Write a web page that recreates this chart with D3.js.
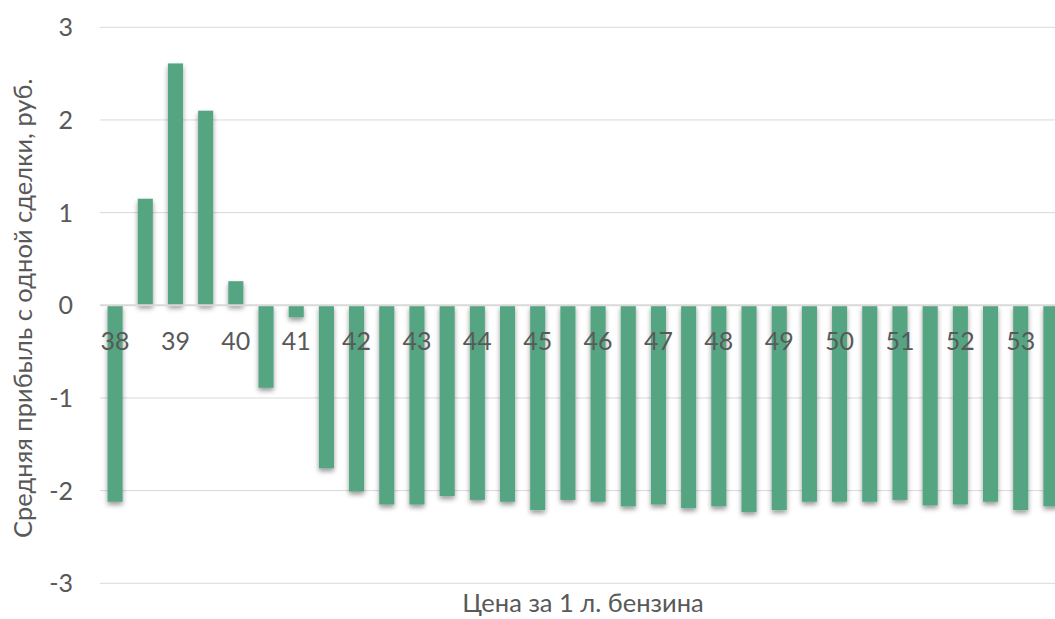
<!DOCTYPE html>
<html><head><meta charset="utf-8">
<script src="https://cdn.jsdelivr.net/npm/d3@7"></script>
<style>body{margin:0;background:#fff;}svg{display:block;}</style>
</head><body>
<svg id="c" width="1055" height="619"></svg>
<script>
const categories = [38,38.5,39,39.5,40,40.5,41,41.5,42,42.5,43,43.5,44,44.5,45,45.5,46,46.5,47,47.5,48,48.5,49,49.5,50,50.5,51,51.5,52,52.5,53,53.5];
const values = [-2.12,1.15,2.61,2.10,0.26,-0.89,-0.13,-1.76,-2.01,-2.15,-2.15,-2.06,-2.10,-2.12,-2.21,-2.10,-2.12,-2.17,-2.15,-2.19,-2.17,-2.23,-2.21,-2.12,-2.12,-2.12,-2.10,-2.16,-2.15,-2.12,-2.21,-2.17];
const yTicks = [-3,-2,-1,0,1,2,3];
const xTitle = "Цена за 1 л. бензина";
const yTitle = "Средняя прибыль с одной сделки, руб.";

const svg = d3.select("#c");
const font = "Lato, 'Open Sans', sans-serif";
const fs = 25, fsT = 25.5;
const pL = 100, pR = 1066, pT = 27.3, pB = 583.3;
const x = d3.scaleBand().domain(categories).range([pL, pR]).paddingInner(0.5).paddingOuter(0.25);
const y = d3.scaleLinear().domain([-3, 3]).range([pB, pT]);

const defs = svg.append("defs");
const f = defs.append("filter").attr("id","sh").attr("x","-50%").attr("y","-20%").attr("width","200%").attr("height","140%");
f.append("feDropShadow").attr("dx",0).attr("dy",3).attr("stdDeviation",2.5).attr("flood-color","#000").attr("flood-opacity",0.4);

// gridlines
svg.append("g").selectAll("line").data(yTicks.filter(d=>d!==0)).join("line")
  .attr("x1", pL).attr("x2", 1055).attr("y1", d=>y(d)).attr("y2", d=>y(d))
  .attr("stroke", "#d9d9d9").attr("stroke-width", 1);

// y tick labels
svg.append("g").selectAll("text").data(yTicks).join("text")
  .attr("x", 73).attr("y", d=>y(d)).attr("dy","0.36em").attr("text-anchor","end")
  .attr("font-family", font).attr("font-size", fs).attr("fill", "#595959")
  .text(d=>d);

// bars
svg.append("g").attr("filter","url(#sh)").selectAll("rect").data(categories).join("rect")
  .attr("x", d=>x(d)).attr("width", x.bandwidth())
  .attr("y", (d,i)=>Math.min(y(values[i]), y(0)))
  .attr("height", (d,i)=>Math.abs(y(values[i]) - y(0)))
  .attr("fill", "#55a583");

// zero axis line
svg.append("line").attr("x1", pL).attr("x2", 1055).attr("y1", y(0)).attr("y2", y(0))
  .attr("stroke", "#d9d9d9").attr("stroke-width", 2);

// x category labels (integers only)
svg.append("g").selectAll("text").data(categories.filter(d=>Number.isInteger(d))).join("text")
  .attr("x", d=>x(d)+x.bandwidth()/2).attr("y", y(0)+45).attr("text-anchor","middle")
  .attr("font-family", font).attr("font-size", fs).attr("fill", "#595959")
  .text(d=>d);

// axis titles
svg.append("text").attr("x", (pL+pR)/2).attr("y", 612).attr("text-anchor","middle")
  .attr("font-family", font).attr("font-size", fsT).attr("fill", "#595959").text(xTitle);
svg.append("text").attr("transform", `translate(32,${(pT+pB)/2+3}) rotate(-90)`).attr("text-anchor","middle")
  .attr("font-family", font).attr("font-size", fsT).attr("fill", "#595959").text(yTitle);
</script>
</body></html>
